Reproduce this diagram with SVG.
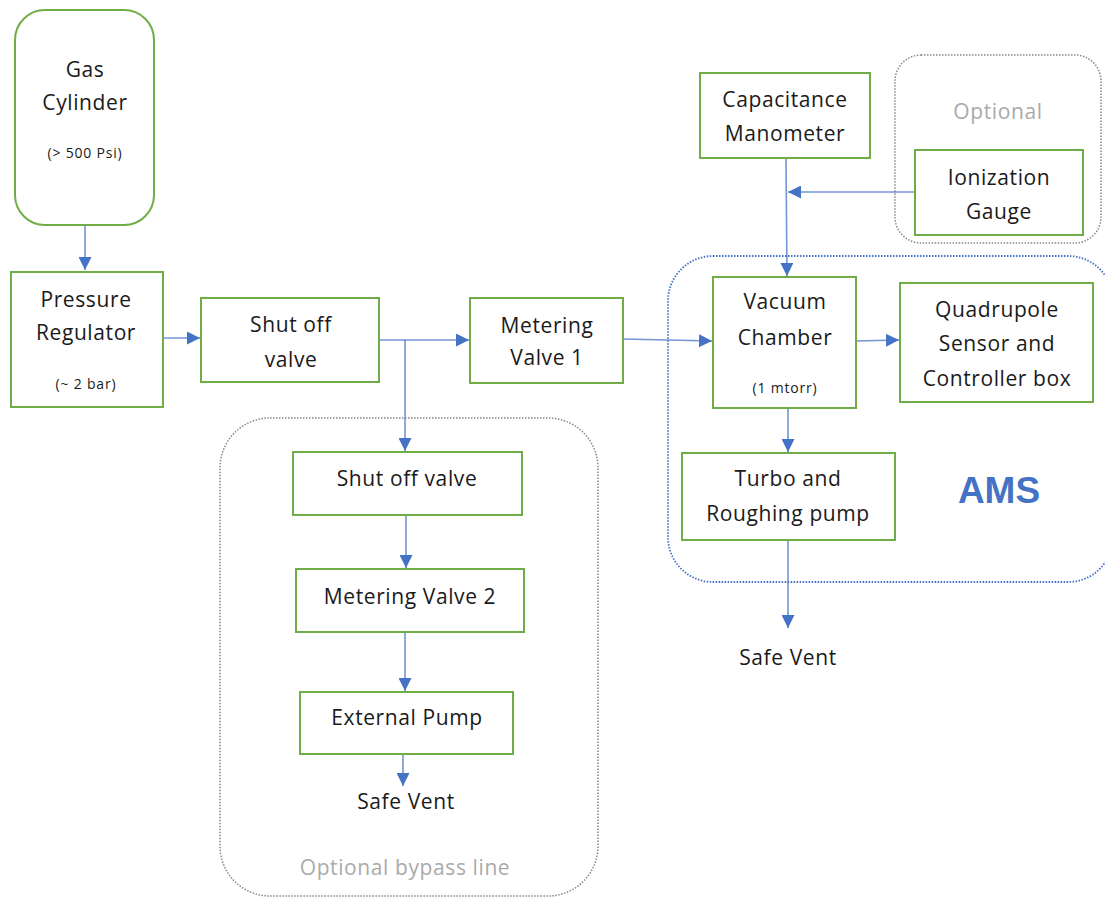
<svg xmlns="http://www.w3.org/2000/svg" width="1105" height="900" viewBox="0 0 1105 900">
<style>
.box{fill:#fff;stroke:#70AD47;stroke-width:2}
.t{font-family:"Open Sans","Liberation Sans",sans-serif;font-size:21px;fill:#1a1a1a;text-anchor:middle;letter-spacing:0.6px}
.s{font-family:"Open Sans","Liberation Sans",sans-serif;font-size:14px;fill:#1a1a1a;text-anchor:middle;letter-spacing:0.8px}
.g{font-family:"Open Sans","Liberation Sans",sans-serif;font-size:21px;fill:#aaa;text-anchor:middle;letter-spacing:0.6px}
.c{fill:none;stroke:#4472C4;stroke-width:1.6;stroke-opacity:0.75}
.grp{fill:none;stroke:#888;stroke-width:1.5;stroke-dasharray:1.5 1.5}
.ams{fill:none;stroke:#4472C4;stroke-width:1.8;stroke-dasharray:1.5 1.5}
</style>
<defs>
<marker id="ah" viewBox="0 0 10 10" refX="10" refY="5" markerWidth="13" markerHeight="13" markerUnits="userSpaceOnUse" orient="auto">
<path d="M0,0 L10,5 L0,10 z" fill="#4472C4"/>
</marker>
</defs>
<rect width="1105" height="900" fill="#fff"/>

<g id="groups">
<rect class="grp" x="220" y="418" width="378" height="478" rx="50"/>
<text class="g" x="405" y="875">Optional bypass line</text>
<rect class="grp" x="895" y="55" width="206" height="188" rx="26"/>
<text class="g" x="998" y="119">Optional</text>
<rect class="ams" x="668" y="256" width="445" height="326" rx="45"/>
<text x="999" y="503" font-family="'Liberation Sans',Arial,sans-serif" font-weight="bold" font-size="37" fill="#4472C4" text-anchor="middle">AMS</text>
</g>

<g id="connectors">
<line class="c" x1="85" y1="226" x2="85" y2="270" marker-end="url(#ah)"/>
<line class="c" x1="163" y1="338" x2="200" y2="338" marker-end="url(#ah)"/>
<line class="c" x1="379" y1="340" x2="469" y2="340" marker-end="url(#ah)"/>
<line class="c" x1="405" y1="340" x2="405" y2="451" marker-end="url(#ah)"/>
<line class="c" x1="623" y1="339" x2="712" y2="341" marker-end="url(#ah)"/>
<line class="c" x1="856" y1="341" x2="899" y2="340" marker-end="url(#ah)"/>
<line class="c" x1="786" y1="158" x2="787" y2="276" marker-end="url(#ah)"/>
<line class="c" x1="915" y1="192" x2="788" y2="192" marker-end="url(#ah)"/>
<line class="c" x1="788" y1="408" x2="788" y2="452" marker-end="url(#ah)"/>
<line class="c" x1="788" y1="540" x2="788" y2="628" marker-end="url(#ah)"/>
<line class="c" x1="406" y1="515" x2="406" y2="568" marker-end="url(#ah)"/>
<line class="c" x1="405" y1="632" x2="405" y2="691" marker-end="url(#ah)"/>
<line class="c" x1="403" y1="754" x2="403" y2="786" marker-end="url(#ah)"/>
</g>

<g id="gas-cylinder">
<rect class="box" x="15" y="10" width="139" height="215" rx="30"/>
<text class="t" x="85" y="77">Gas</text>
<text class="t" x="85" y="110">Cylinder</text>
<text class="s" x="85" y="158">(&gt; 500 Psi)</text>
</g>
<g id="pressure-regulator">
<rect class="box" x="11" y="272" width="152" height="135"/>
<text class="t" x="86" y="307">Pressure</text>
<text class="t" x="86" y="340">Regulator</text>
<text class="s" x="86" y="389">(~ 2 bar)</text>
</g>
<g id="shut-off-valve">
<rect class="box" x="201" y="298" width="178" height="84"/>
<text class="t" x="291" y="332">Shut off</text>
<text class="t" x="291" y="367">valve</text>
</g>
<g id="metering-valve-1">
<rect class="box" x="470" y="298" width="153" height="85"/>
<text class="t" x="547" y="333">Metering</text>
<text class="t" x="547" y="365">Valve 1</text>
</g>
<g id="capacitance-manometer">
<rect class="box" x="700" y="73" width="170" height="85"/>
<text class="t" x="785" y="107">Capacitance</text>
<text class="t" x="785" y="141">Manometer</text>
</g>
<g id="ionization-gauge">
<rect class="box" x="915" y="150" width="168" height="85"/>
<text class="t" x="999" y="185">Ionization</text>
<text class="t" x="999" y="219">Gauge</text>
</g>
<g id="vacuum-chamber">
<rect class="box" x="713" y="277" width="143" height="131"/>
<text class="t" x="785" y="309">Vacuum</text>
<text class="t" x="785" y="345">Chamber</text>
<text class="s" x="785" y="393">(1 mtorr)</text>
</g>
<g id="quadrupole">
<rect class="box" x="900" y="283" width="193" height="119"/>
<text class="t" x="997" y="317">Quadrupole</text>
<text class="t" x="997" y="351">Sensor and</text>
<text class="t" x="997" y="386">Controller box</text>
</g>
<g id="turbo-pump">
<rect class="box" x="682" y="453" width="213" height="87"/>
<text class="t" x="788" y="486">Turbo and</text>
<text class="t" x="788" y="521">Roughing pump</text>
</g>
<g id="safe-vent-1">
<text class="t" x="788" y="665">Safe Vent</text>
</g>
<g id="shut-off-valve-2">
<rect class="box" x="293" y="452" width="229" height="63"/>
<text class="t" x="407" y="486">Shut off valve</text>
</g>
<g id="metering-valve-2">
<rect class="box" x="296" y="569" width="228" height="63"/>
<text class="t" x="410" y="604">Metering Valve 2</text>
</g>
<g id="external-pump">
<rect class="box" x="300" y="692" width="213" height="62"/>
<text class="t" x="407" y="725">External Pump</text>
</g>
<g id="safe-vent-2">
<text class="t" x="406" y="809">Safe Vent</text>
</g>
</svg>
